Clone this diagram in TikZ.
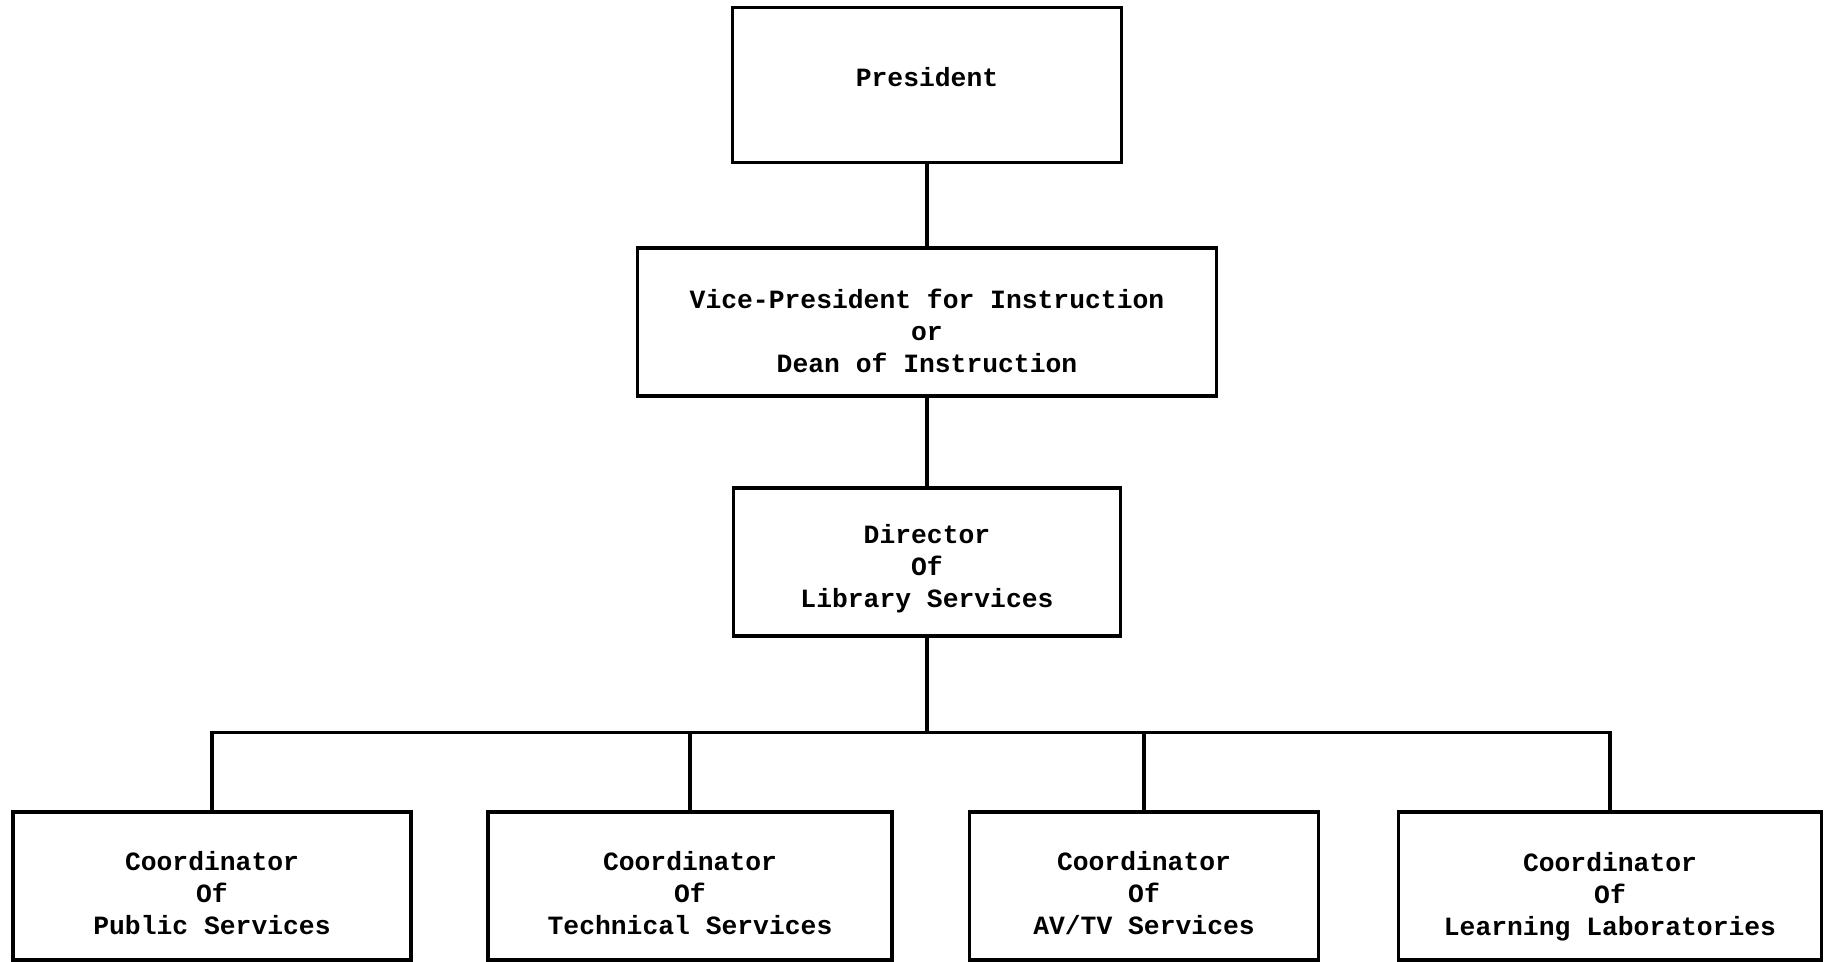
\documentclass[tikz,border=0pt]{standalone}
\usepackage{fontspec}
\setmonofont{Liberation Mono}
\usetikzlibrary{positioning}

\begin{document}
\begin{tikzpicture}[node distance=2.4cm,on grid,line width=0.9pt,
  post/.style={draw,rectangle,align=center,inner sep=0pt,minimum height=1.48cm,
    font=\ttfamily\bfseries\fontsize{7.5}{9.1}\selectfont},
  lower/.style={execute at begin node={\rule{0pt}{#1}}}]
\useasboundingbox (0,0) rectangle (18.26,-9.62);
\node[post,minimum width=3.89cm,minimum height=1.55cm,
  execute at begin node={\rule[-4.6pt]{0pt}{4.6pt}}] (P) at (9.27,-0.85) {President};
\node[post,lower=29pt,minimum width=5.79cm] (V) [below=2.37cm of P] {Vice-President for Instruction\\or\\Dean of Instruction};
\node[post,lower=27.5pt,minimum width=3.87cm] (D) [below=2.40cm of V] {Director\\Of\\Library Services};
\coordinate[below=0.95cm of D.south] (bus);
\node[post,lower=27.5pt,minimum width=3.98cm] (C_1) [below left=3.24cm and 7.15cm of D] {Coordinator\\Of\\Public Services};
\node[post,lower=27.5pt,minimum width=4.04cm] (C_2) [right=4.78cm of C_1] {Coordinator\\Of\\Technical Services};
\node[post,lower=27.5pt,minimum width=3.49cm] (C_3) [right=4.54cm of C_2] {Coordinator\\Of\\AV/TV Services};
\node[post,lower=29.5pt,minimum width=4.23cm] (C_4) [right=4.66cm of C_3] {Coordinator\\Of\\Learning Laboratories};
\path[-]
	(P) edge (V)
	(V) edge (D)
	(D) edge (bus);
\draw (bus) -| (C_1) (bus) -| (C_2) (bus) -| (C_3) (bus) -| (C_4);
\end{tikzpicture}
\end{document}
